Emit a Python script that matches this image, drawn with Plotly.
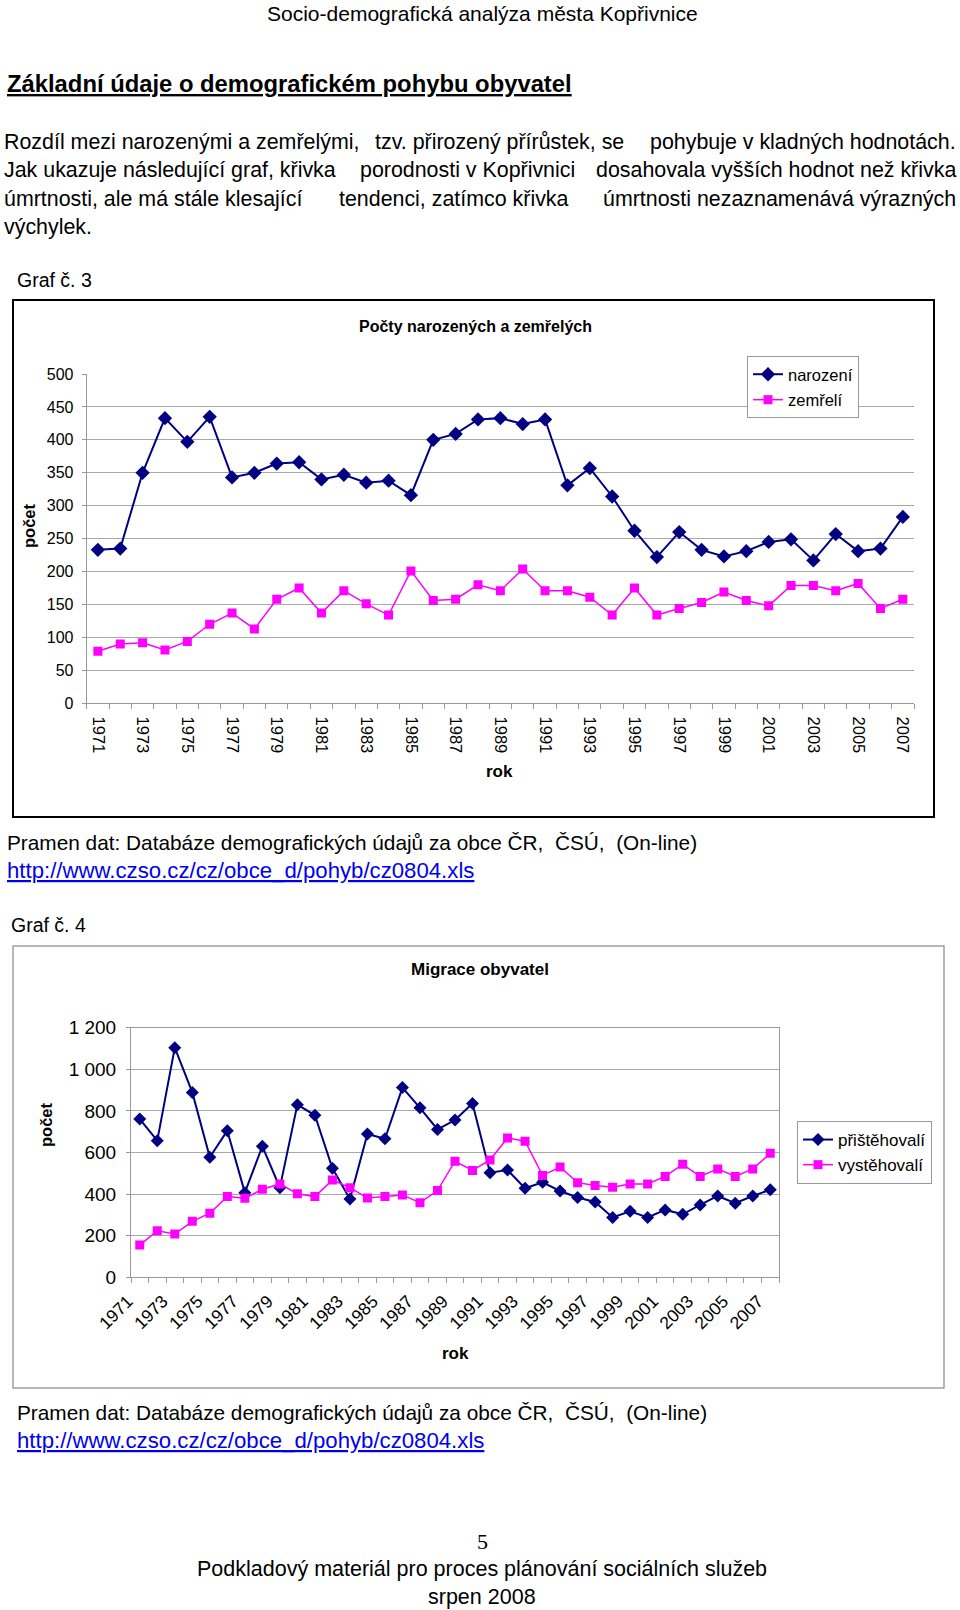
import plotly.graph_objects as go

W, H = 960, 1610

# ---------------- data ----------------
years = list(range(1971, 2008))
label_years = [y for y in years if y % 2 == 1]

narozeni = [233, 235, 350, 433, 397, 435, 343, 350, 364, 366, 340, 347, 335, 338, 316,
            400, 409, 431, 433, 424, 431, 331, 357, 314, 262, 222, 260, 233, 223, 231,
            245, 249, 217, 257, 231, 235, 283]
zemreli = [79, 90, 92, 81, 94, 120, 137, 113, 158, 175, 137, 171, 151, 134, 201,
           156, 158, 180, 171, 204, 171, 171, 161, 134, 175, 134, 144, 153, 169, 156,
           148, 179, 179, 171, 182, 144, 158]

pristehovali = [761, 657, 1104, 889, 577, 705, 407, 630, 431, 830, 779, 524, 376, 689, 666,
                912, 815, 711, 756, 836, 503, 516, 428, 457, 415, 384, 362, 288, 317, 288,
                324, 303, 348, 391, 356, 391, 421]
vystehovali = [155, 224, 208, 269, 308, 388, 380, 423, 449, 402, 388, 468, 431, 381, 388,
               396, 359, 417, 558, 514, 564, 670, 654, 490, 530, 455, 441, 433, 449, 449,
               485, 543, 485, 521, 485, 521, 596]

chart1_ticks = [0, 50, 100, 150, 200, 250, 300, 350, 400, 450, 500]
chart2_ticks = [0, 200, 400, 600, 800, 1000, 1200]

NAVY = "#000080"
MAG = "#FF00FF"
GRID = "#a8a8a8"
AX = "#999999"
CHART_FONT = "Liberation Sans, Arial, sans-serif"
DOC_FONT = "Liberation Sans, Arial, sans-serif"


def px(x):
    return x / W


def py(y):
    return 1 - y / H


boundaries = [y - 0.5 for y in years] + [years[-1] + 0.5]

fig = go.Figure()

# ---------------- chart 1 traces ----------------
fig.add_trace(go.Scatter(
    x=years, y=narozeni, name="narození", mode="lines+markers",
    line=dict(color=NAVY, width=2),
    marker=dict(symbol="diamond", size=11, color=NAVY),
    xaxis="x", yaxis="y", legend="legend", legendgroup="a"))
fig.add_trace(go.Scatter(
    x=years, y=zemreli, name="zemřelí", mode="lines+markers",
    line=dict(color=MAG, width=1.5),
    marker=dict(symbol="square", size=9, color=MAG),
    xaxis="x", yaxis="y", legend="legend", legendgroup="b"))

# ---------------- chart 2 traces ----------------
fig.add_trace(go.Scatter(
    x=years, y=pristehovali, name="přištěhovalí", mode="lines+markers",
    line=dict(color=NAVY, width=2),
    marker=dict(symbol="diamond", size=10, color=NAVY),
    xaxis="x2", yaxis="y2", legend="legend2", legendgroup="c"))
fig.add_trace(go.Scatter(
    x=years, y=vystehovali, name="vystěhovalí", mode="lines+markers",
    line=dict(color=MAG, width=1.5),
    marker=dict(symbol="square", size=9, color=MAG),
    xaxis="x2", yaxis="y2", legend="legend2", legendgroup="d"))

common_x = dict(
    tickmode="array", tickvals=label_years, ticktext=[str(y) for y in label_years],
    ticks="", showgrid=False, zeroline=False, automargin=False,
    showline=True, linecolor=AX, linewidth=1,
    range=[years[0] - 0.5, years[-1] + 0.5],
    minor=dict(tickmode="array", tickvals=boundaries, ticks="outside",
               ticklen=5, tickcolor=AX, tickwidth=1, showgrid=False),
)

fig.update_layout(
    width=W, height=H,
    margin=dict(l=0, r=0, t=0, b=0, pad=0, autoexpand=False),
    paper_bgcolor="white", plot_bgcolor="white",
    separators=", ",
    showlegend=True,
    xaxis=dict(common_x, domain=[px(86.7), px(914)], anchor="y", tickangle=90,
               tickfont=dict(family=CHART_FONT, size=16.5, color="black"),
               ticklabelstandoff=9),
    yaxis=dict(domain=[py(703.3), py(374)], anchor="x", range=[0, 500],
               tickmode="array", tickvals=chart1_ticks, automargin=False,
               showgrid=True, gridcolor=GRID, gridwidth=1, zeroline=False,
               showline=True, linecolor=AX, ticks="outside", ticklen=4, tickcolor=AX,
               tickfont=dict(family=CHART_FONT, size=16, color="black"),
               ticklabelstandoff=5),
    xaxis2=dict(common_x, domain=[px(131), px(779)], anchor="y2", tickangle=-45,
                mirror=True,
                tickfont=dict(family=CHART_FONT, size=17.5, color="black"),
                ticklabelstandoff=6, ticklabelshift=-12),
    yaxis2=dict(domain=[py(1277.3), py(1027.7)], anchor="x2", range=[0, 1200],
                tickmode="array", tickvals=chart2_ticks, tickformat=",d", automargin=False,
                showgrid=True, gridcolor=GRID, gridwidth=1, zeroline=False,
                showline=True, mirror=True, linecolor=AX, ticks="outside", ticklen=4,
                tickcolor=AX,
                tickfont=dict(family=CHART_FONT, size=19, color="black"),
                ticklabelstandoff=6),
    legend=dict(x=px(747), y=py(356), xanchor="left", yanchor="top",
                bgcolor="white", bordercolor=AX, borderwidth=1,
                font=dict(family=CHART_FONT, size=16.5, color="black"),
                tracegroupgap=1, itemwidth=30),
    legend2=dict(x=px(797), y=py(1121), xanchor="left", yanchor="top",
                 bgcolor="white", bordercolor=AX, borderwidth=1,
                 font=dict(family=CHART_FONT, size=17, color="black"),
                 tracegroupgap=0, itemwidth=30),
)

# ---------------- frames ----------------
fig.add_shape(type="rect", xref="paper", yref="paper",
              x0=px(13), x1=px(934), y0=py(300), y1=py(817),
              line=dict(color="black", width=2), fillcolor="rgba(0,0,0,0)", layer="below")
fig.add_shape(type="rect", xref="paper", yref="paper",
              x0=px(13), x1=px(944), y0=py(946), y1=py(1388),
              line=dict(color="#a0a0a0", width=1.5), fillcolor="rgba(0,0,0,0)", layer="below")


def ann(text, x, y, size, xanchor="left", family=DOC_FONT, color="black", textangle=0):
    fig.add_annotation(text=text, x=px(x), y=py(y), xref="paper", yref="paper",
                       xanchor=xanchor, yanchor="middle", showarrow=False,
                       textangle=textangle, borderpad=0,
                       font=dict(family=family, size=size, color=color))


# ---------------- document text ----------------
ann("Socio-demografická analýza města Kopřivnice", 482, 13, 21, xanchor="center")
ann("<b><u>Základní údaje o demografickém pohybu obyvatel</u></b>", 6, 83, 23.8)

# justified paragraph: each line split into left / middle / right parts
PS = 21.4
LH = 28.3
y0 = 142
para_lines = [
    ("Rozdíl mezi narozenými a zemřelými,", "tzv. přirozený přírůstek, se",
     "pohybuje v kladných hodnotách.", 499),
    ("Jak ukazuje následující graf, křivka", "porodnosti v Kopřivnici",
     "dosahovala vyšších hodnot než křivka", 467),
    ("úmrtnosti, ale má stále klesající", "tendenci, zatímco křivka",
     "úmrtnosti nezaznamenává výrazných", 454),
]
for i, (left, mid, right, mid_x) in enumerate(para_lines):
    yy = y0 + i * LH
    ann(left, 3, yy, PS)
    ann(mid, mid_x, yy, PS, xanchor="center")
    ann(right, 957, yy, PS, xanchor="right")
ann("výchylek.", 3, y0 + 3 * LH, PS)
ann("Graf č. 3", 16, 280, 19.5)

ann("<b>Počty narozených a zemřelých</b>", 475, 326, 16, xanchor="center", family=CHART_FONT)
ann("<b>počet</b>", 29, 526, 16.5, xanchor="center", family=CHART_FONT, textangle=-90)
ann("<b>rok</b>", 499, 772, 17, xanchor="center", family=CHART_FONT)

ann("Pramen dat: Databáze demografických údajů za obce ČR,  ČSÚ,  (On-line)", 6, 842, 20.8)
ann("<u>http://www.czso.cz/cz/obce_d/pohyb/cz0804.xls</u>", 6, 870, 22.2, color="#0000EE")
ann("Graf č. 4", 10, 925, 19.5)

ann("<b>Migrace obyvatel</b>", 480, 969, 17, xanchor="center", family=CHART_FONT)
ann("<b>počet</b>", 46, 1125, 16.5, xanchor="center", family=CHART_FONT, textangle=-90)
ann("<b>rok</b>", 455, 1353, 17, xanchor="center", family=CHART_FONT)

ann("Pramen dat: Databáze demografických údajů za obce ČR,  ČSÚ,  (On-line)", 16, 1412, 20.8)
ann("<u>http://www.czso.cz/cz/obce_d/pohyb/cz0804.xls</u>", 16, 1440, 22.2, color="#0000EE")

ann("5", 482, 1541, 22, xanchor="center", family="Liberation Serif, Times New Roman, serif")
ann("Podkladový materiál pro proces plánování sociálních služeb", 482, 1569, 21.5, xanchor="center")
ann("srpen 2008", 482, 1597, 21.5, xanchor="center")

fig.write_html("out.html", config={"displayModeBar": False},
               post_script="document.body.style.margin='0px';")
